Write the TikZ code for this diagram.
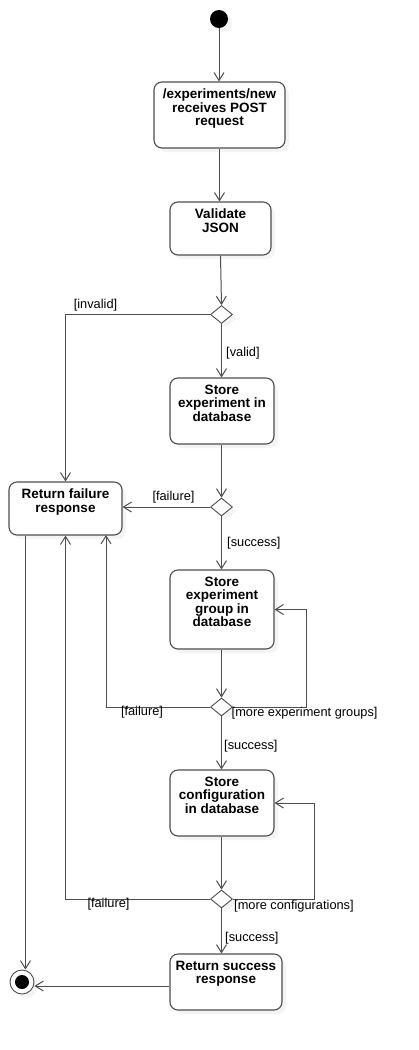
\documentclass[tikz,border=0pt]{standalone}
\usepackage{fontspec}
\setmainfont{Liberation Sans}
\usetikzlibrary{shapes.geometric,arrows.meta,shadows}
\definecolor{ln}{HTML}{4D4D4D}
\begin{document}
\begin{tikzpicture}[x=1pt,y=-1pt,
 shad/.style={drop shadow={shadow xshift=4pt,shadow yshift=-4pt,fill=black!8,draw=none}},
 actbox/.style={draw=ln, line width=1.1pt, rounded corners=8pt, fill=white, shad, inner sep=0pt},
 btext/.style={font=\fontsize{13.5}{13.3}\selectfont\bfseries, align=center, inner sep=0pt, anchor=north},
 dec/.style={diamond, draw=ln, line width=0.9pt, fill=white, minimum width=22pt, minimum height=18pt, inner sep=0pt, shad},
 arr/.style={draw=ln, line width=1pt, -{Straight Barb[length=8pt,width=10pt,line width=1pt]}},
 lbl/.style={font=\fontsize{12.8}{13}\selectfont, inner sep=0pt},
]
\useasboundingbox (0,0) rectangle (418,1050);
\fill[white] (0,0) rectangle (418,1050);

% start / end
\node[circle, fill=black, minimum size=18pt, inner sep=0pt, shad] (start) at (219,19) {};
\node[circle, draw=ln, line width=0.9pt, fill=white, minimum size=24pt, inner sep=0pt, shad] (final) at (22,982) {};
\node[circle, fill=black, minimum size=14pt, inner sep=0pt] (finalin) at (final) {};

% activity boxes
\node[actbox, minimum width=131pt, minimum height=66pt] (b1) at (219.5,115) {};
\node[btext] (b1t) at ([yshift=-7.5pt]b1.north) {/experiments/new\\receives POST\\request};
\node[actbox, minimum width=101pt, minimum height=53pt] (b2) at (220.5,228.5) {};
\node[btext] (b2t) at ([yshift=-7.5pt]b2.north) {Validate\\JSON};
\node[actbox, minimum width=104pt, minimum height=66pt] (b3) at (222,411) {};
\node[btext] (b3t) at ([yshift=-7.5pt]b3.north) {Store\\experiment in\\database};
\node[actbox, minimum width=104pt, minimum height=79pt] (b4) at (222,609.5) {};
\node[btext] (b4t) at ([yshift=-7.5pt]b4.north) {Store\\experiment\\group in\\database};
\node[actbox, minimum width=104pt, minimum height=66pt] (b5) at (222,803) {};
\node[btext] (b5t) at ([yshift=-7.5pt]b5.north) {Store\\configuration\\in database};
\node[actbox, minimum width=112pt, minimum height=56pt] (b6) at (226,982) {};
\node[btext] (b6t) at ([yshift=-7.5pt]b6.north) {Return success\\response};
\node[actbox, minimum width=113pt, minimum height=53pt] (fail) at (65.5,508.5) {};
\node[btext] (failt) at ([yshift=-7.5pt]fail.north) {Return failure\\response};

% decisions
\node[dec] (d1) at (221.5,314.5) {};
\node[dec] (d2) at (221.5,507) {};
\node[dec] (d3) at (221.5,707) {};
\node[dec] (d4) at (221.5,899) {};

% helper coordinates
\coordinate (l1) at (306,707);
\coordinate (l2) at (314,899);
\coordinate (fin1) at (106,535);
\coordinate (fout) at ([xshift=17pt]fail.south west);

% connectors
\draw[arr] (start) -- (start.south |- b1.north);
\draw[arr] (b1.south) -- (b1.south |- b2.north);
\draw[arr] (b2.south) -- (d1.north);
\draw[arr] (d1.west) -| (fail.north);
\draw[arr] (d1.south) -- (d1.south |- b3.north);
\draw[arr] (b3.south -| d2.north) -- (d2.north);
\draw[arr] (d2.west) -- (d2.west -| fail.east);
\draw[arr] (d2.south) -- (d2.south |- b4.north);
\draw[arr] (b4.south -| d3.north) -- (d3.north);
\draw[arr] (d3.east) -- (l1) |- (b4.east);
\draw[arr] (d3.west) -| (fin1);
\draw[arr] (d3.south) -- (d3.south |- b5.north);
\draw[arr] (b5.south -| d4.north) -- (d4.north);
\draw[arr] (d4.east) -- (l2) |- (b5.east);
\draw[arr] (d4.west) -| (fail.south);
\draw[arr] (d4.south) -- (d4.south |- b6.north);
\draw[arr] ([yshift=-4pt]b6.west) -- ([yshift=-4pt]b6.west -| final.east);
\draw[arr] (fout) -- (fout |- final.north);

% labels
\node[lbl] (linv) at (95.5,305) {[invalid]};
\node[lbl, anchor=west] (lval) at (226,353) {[valid]};
\node[lbl] (lf1) at (173.5,497) {[failure]};
\node[lbl, anchor=west] (ls1) at (227,543) {[success]};
\node[lbl] (lf2) at (142,712) {[failure]};
\node[lbl, anchor=west] (lmeg) at (231.5,713) {[more experiment groups]};
\node[lbl, anchor=west] (ls2) at (224,746) {[success]};
\node[lbl] (lf3) at (108.5,904) {[failure]};
\node[lbl, anchor=west] (lmc) at (234,906) {[more configurations]};
\node[lbl, anchor=west] (ls3) at (225,938) {[success]};
\end{tikzpicture}
\end{document}
